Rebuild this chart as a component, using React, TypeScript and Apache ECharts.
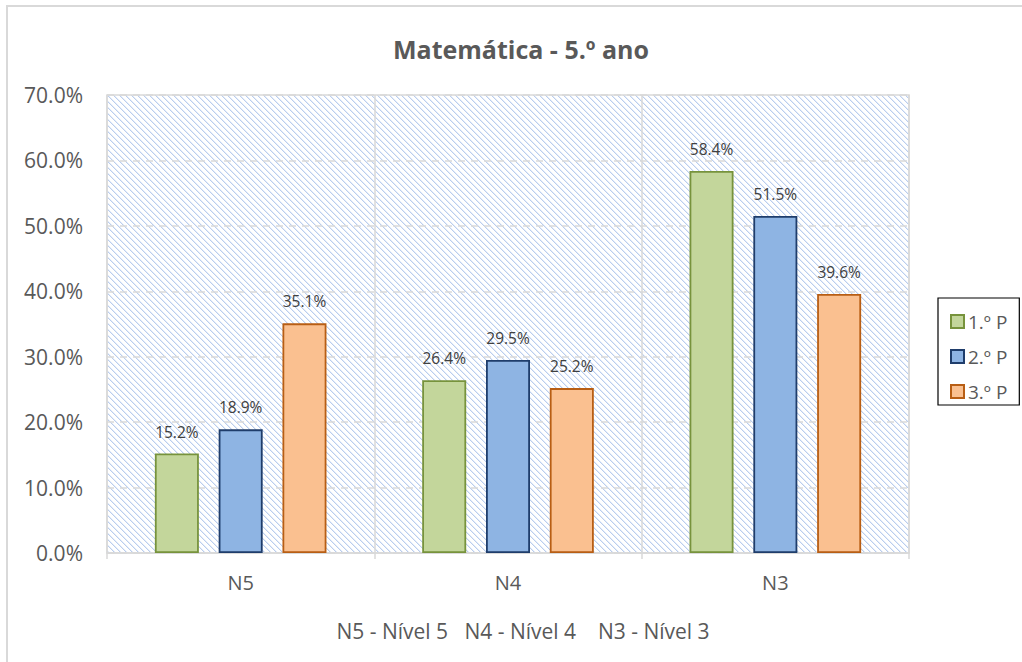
import React, { useEffect, useRef } from "react";
import * as echarts from "echarts";

const categories = ["N5", "N4", "N3"];
const seriesNames = ["1.º P", "2.º P", "3.º P"];
const p1 = [15.2, 26.4, 58.4];
const p2 = [18.9, 29.5, 51.5];
const p3 = [35.1, 25.2, 39.6];
const yTicks = { min: 0, max: 70, interval: 10 };
const titleText = "Matemática - 5.º ano";
const footnote = "N5 - Nível 5\u00a0\u00a0\u00a0N4 - Nível 4\u00a0\u00a0\u00a0\u00a0N3 - Nível 3";

const fills = ["#c3d69b", "#8eb4e3", "#fac090"];
const borders = ["#77933c", "#1f3d6b", "#b85e14"];
const FONT = "'Open Sans', sans-serif";

function makeHatch(): HTMLCanvasElement {
  const c = document.createElement("canvas");
  c.width = 6;
  c.height = 6;
  const ctx = c.getContext("2d")!;
  ctx.fillStyle = "#ffffff";
  ctx.fillRect(0, 0, 6, 6);
  for (let i = 0; i < 6; i++) {
    ctx.fillStyle = "#bacdee";
    ctx.fillRect(i, i, 1, 1);
    ctx.fillStyle = "#e5edf9";
    ctx.fillRect((i + 1) % 6, i, 1, 1);
  }
  return c;
}

export default function App() {
  const ref = useRef<HTMLDivElement>(null);
  useEffect(() => {
    if (!ref.current) return;
    const chart = echarts.init(ref.current, null, { renderer: "svg" });
    const hatch = makeHatch();
    const data = [p1, p2, p3];
    chart.setOption({
      animation: false,
      backgroundColor: "#ffffff",
      textStyle: { fontFamily: FONT },
      title: {
        text: titleText,
        left: 516,
        textAlign: "center",
        top: 31,
        textStyle: { fontFamily: FONT, fontSize: 25, fontWeight: "bold", color: "#595959" },
      },
      graphic: [
        {
          type: "rect",
          shape: { x: 7, y: 6, width: 1040, height: 680 },
          style: { fill: "none", stroke: "#d9d9d9", lineWidth: 2 },
          silent: true,
        },
      ],
      legend: {
        orient: "vertical",
        left: 938,
        top: 298,
        padding: [14, 12, 4, 12],
        itemGap: 16,
        itemWidth: 13,
        itemHeight: 13,
        borderColor: "#000000",
        borderWidth: 1.2,
        backgroundColor: "#ffffff",
        textStyle: { fontFamily: FONT, fontSize: 19, color: "#595959", padding: [0, 0, 0, -1] },
        data: seriesNames.map((n) => ({ name: n, icon: "rect" })),
      },
      grid: {
        left: 107,
        right: 113,
        top: 95,
        bottom: 109,
        show: true,
        borderColor: "#d9d9d9",
        borderWidth: 1.5,
        backgroundColor: { image: hatch, repeat: "repeat" },
      },
      xAxis: {
        type: "category",
        data: categories,
        name: footnote,
        nameLocation: "middle",
        nameGap: 67,
        nameTextStyle: { fontFamily: FONT, fontSize: 21, color: "#595959", padding: [0, 0, 0, 30] },
        axisLine: { show: true, lineStyle: { color: "#d9d9d9", width: 1.5 } },
        axisTick: { show: true, length: 6, lineStyle: { color: "#d9d9d9", width: 1.5 } },
        axisLabel: { fontFamily: FONT, fontSize: 20, color: "#595959", margin: 19 },
        splitLine: { show: true, lineStyle: { color: "#d9d9d9", width: 1.5 } },
      },
      yAxis: {
        type: "value",
        min: yTicks.min,
        max: yTicks.max,
        interval: yTicks.interval,
        axisLine: { show: false },
        axisTick: { show: false },
        axisLabel: {
          fontFamily: FONT,
          fontSize: 21,
          color: "#595959",
          margin: 24,
          formatter: (v: number) => v.toFixed(1) + "%",
        },
        splitLine: { show: true, lineStyle: { color: "#d9d9d9", width: 1.5, type: [7, 6] } },
      },
      series: seriesNames.map((name, i) => ({
        name,
        type: "bar",
        data: data[i],
        barWidth: 44,
        barGap: "45%",
        itemStyle: { color: fills[i], borderColor: borders[i], borderWidth: 1.8 },
        label: {
          show: true,
          position: "top",
          distance: 14,
          fontFamily: FONT,
          fontSize: 15.5,
          color: "#404040",
          formatter: (p: any) => Number(p.value).toFixed(1) + "%",
        },
      })),
    });
    return () => chart.dispose();
  }, []);
  return (
    <div
      ref={ref}
      style={{ position: "absolute", left: 0, top: 0, width: 1022, height: 662 }}
    />
  );
}
